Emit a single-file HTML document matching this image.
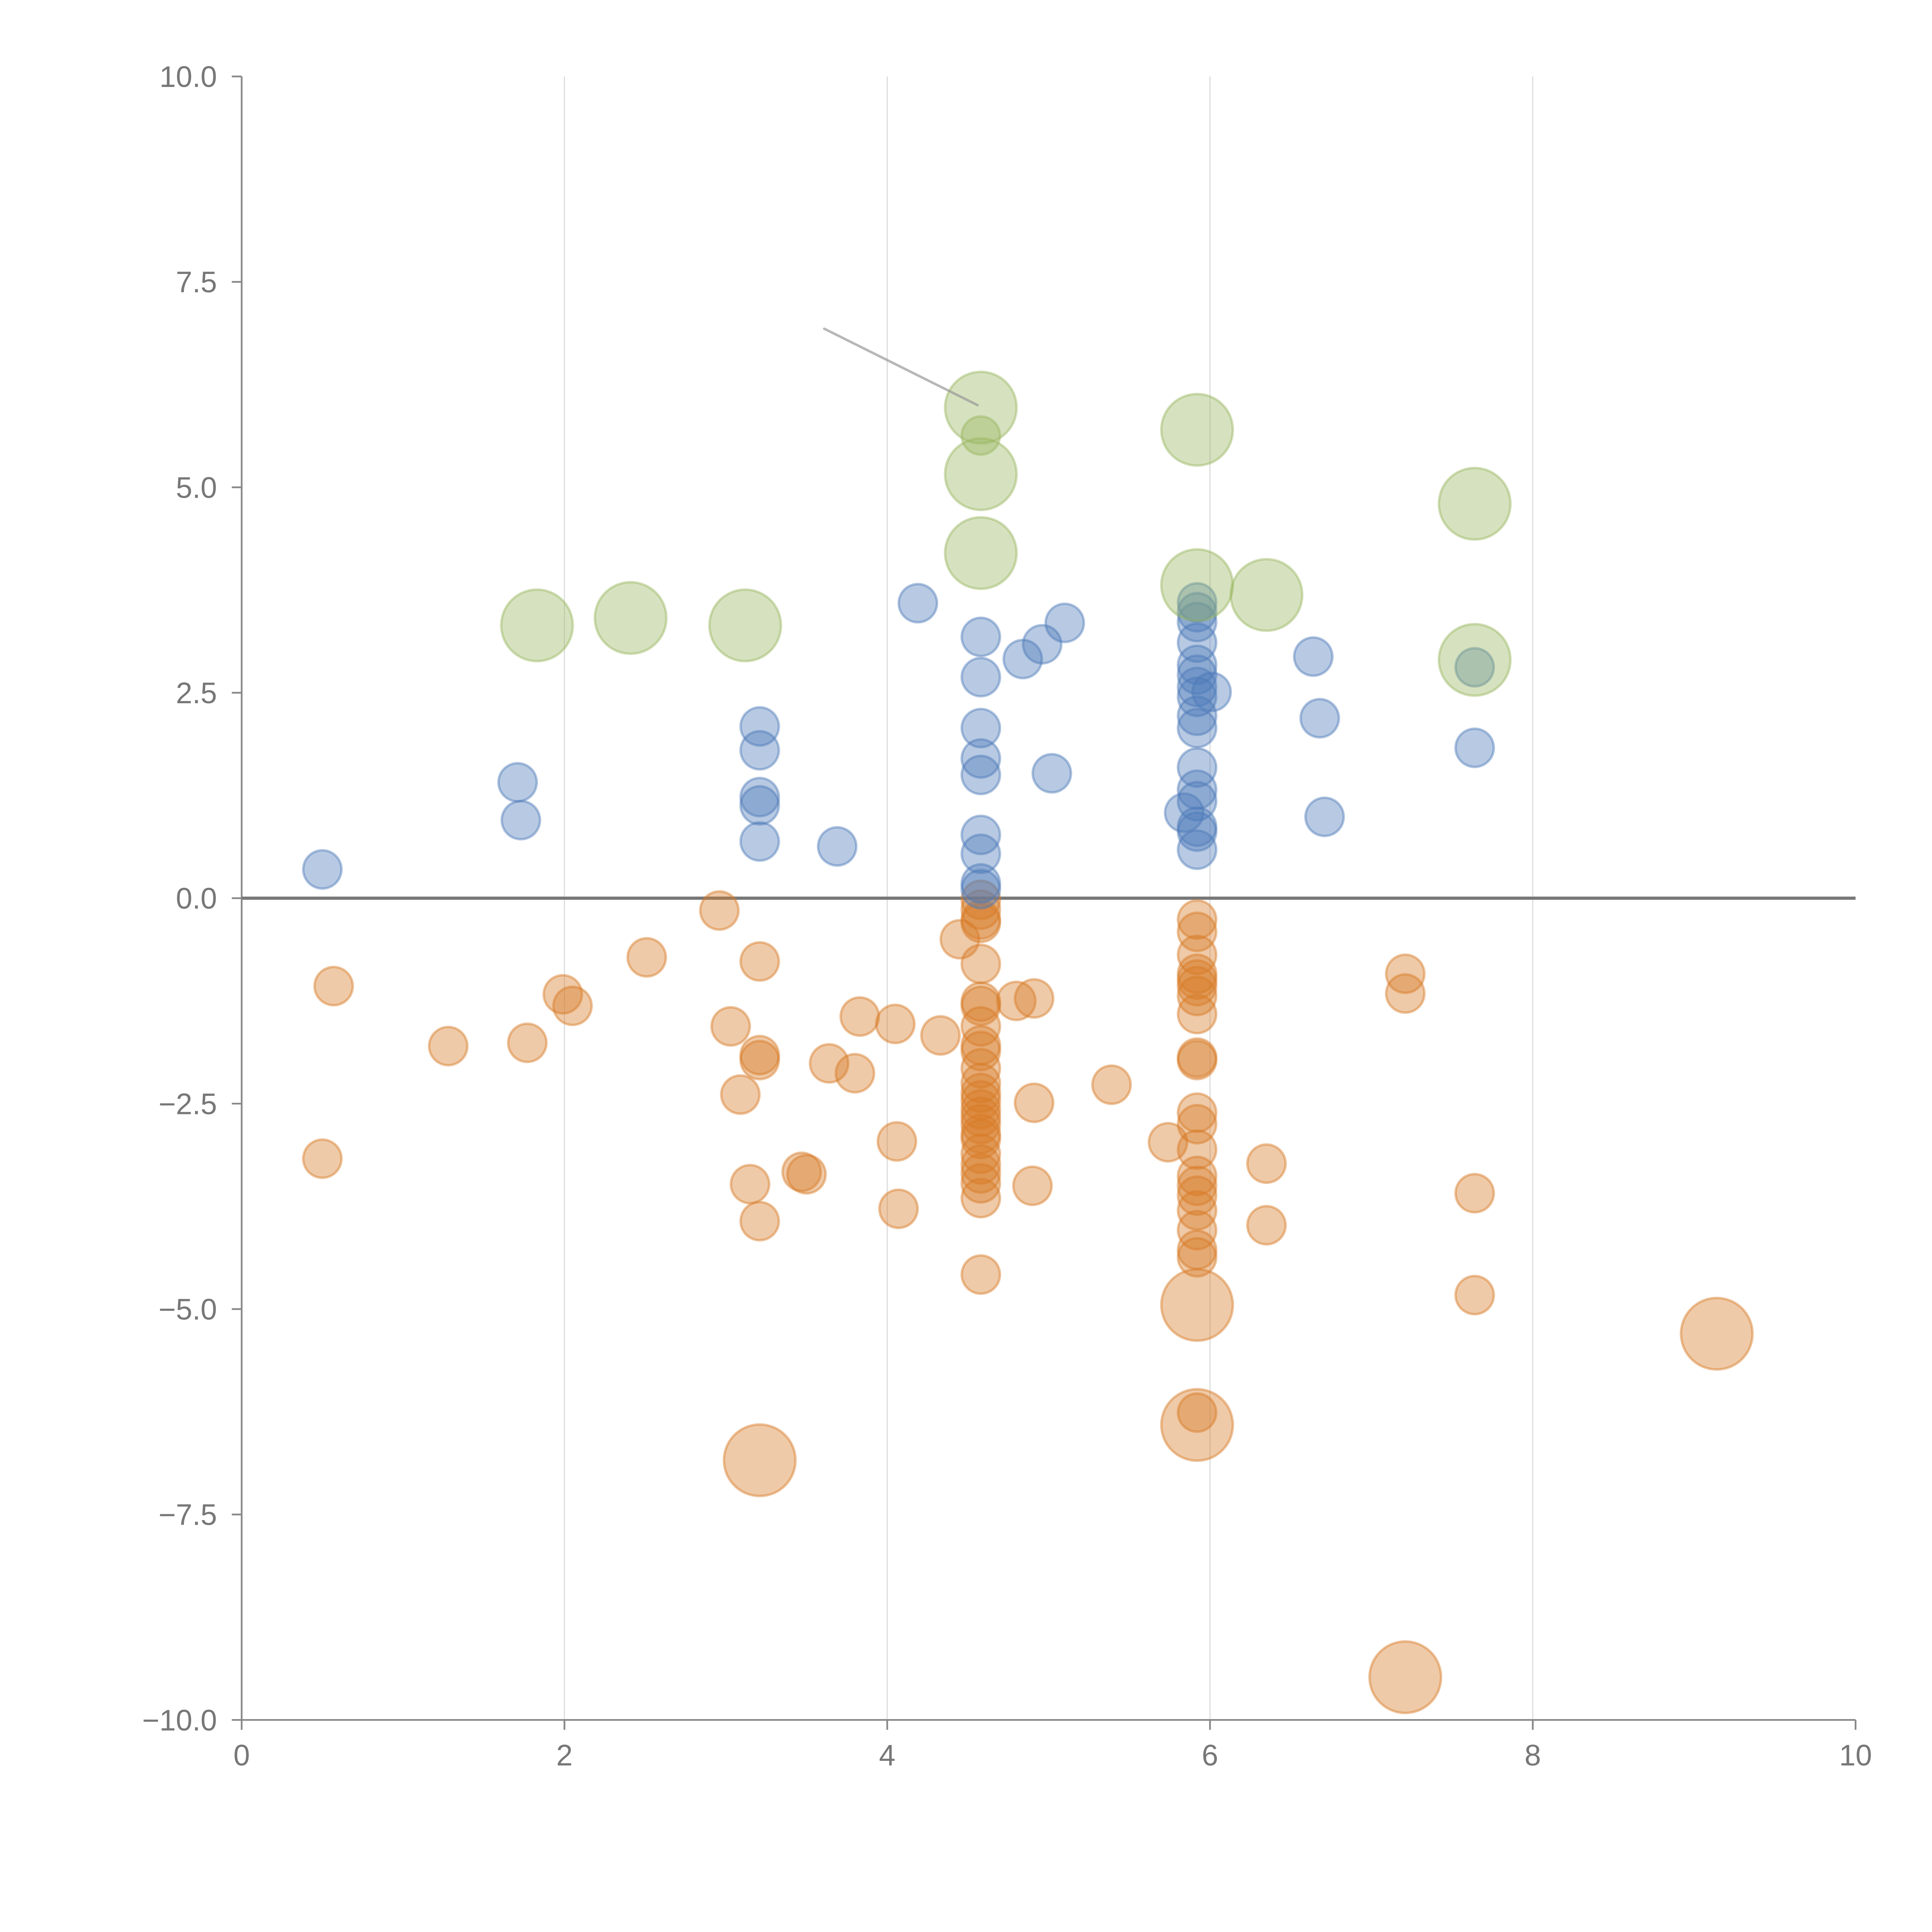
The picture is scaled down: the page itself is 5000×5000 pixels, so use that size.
<!DOCTYPE html>
<html><head><meta charset="utf-8">
<style>html,body{margin:0;padding:0;background:#fff}svg{display:block}</style>
</head><body>
<svg id="chart" width="5000" height="5000" viewBox="0 0 1567 1567" xmlns="http://www.w3.org/2000/svg" font-family="'Liberation Sans', sans-serif">
<g id="grid"></g>
<g id="axes"></g>
<g id="marks"></g>
</svg>
<script>
const xTicks = [0, 2, 4, 6, 8, 10];
const yTicks = [-10, -7.5, -5, -2.5, 0, 2.5, 5, 7.5, 10];
const yTickLabels = ["\u221210.0","\u22127.5","\u22125.0","\u22122.5","0.0","2.5","5.0","7.5","10.0"];

const greenX = [1.83,2.41,3.12,4.58,4.58,4.58,4.58,5.92,5.92,6.35,7.64,7.64];
const greenY = [3.32,3.41,3.32,5.97,5.63,5.16,4.20,5.70,3.81,3.69,4.80,2.90];
const greenBig = [1,1,1,1,0,1,1,1,1,1,1,1];

const blueX = [0.50,1.71,1.73,3.21,3.21,3.21,3.21,3.21,3.69,4.19,4.58,4.58,4.58,4.58,4.58,4.58,4.58,4.58,4.58,4.84,4.96,5.10,5.02,
  5.92,5.92,5.92,5.92,5.92,5.92,5.92,5.92,5.92,5.92,5.92,5.92,5.92,5.92,5.92,5.92,5.84,6.01,6.64,6.68,6.71,7.64,7.64];
const blueY = [0.35,1.41,0.95,2.09,1.80,1.23,1.13,0.69,0.63,3.59,3.18,2.69,2.07,1.70,1.50,0.77,0.54,0.18,0.11,2.91,3.09,3.35,1.52,
  3.60,3.48,3.36,3.11,2.84,2.72,2.57,2.45,2.22,2.07,1.59,1.32,1.18,0.87,0.81,0.59,1.04,2.51,2.94,2.19,0.99,2.81,1.83];

const orangeX = [0.50,0.57,1.28,1.77,1.99,2.05,2.51,2.96,3.03,3.09,3.15,3.21,3.21,3.21,3.21,3.47,3.50,3.64,3.80,3.83,4.05,4.06,4.07,4.33,4.45,
  4.58,4.58,4.58,4.58,4.58,4.58,4.58,4.58,4.58,4.58,4.58,4.58,4.58,4.58,4.58,4.58,4.58,4.58,4.58,4.58,4.58,4.58,4.58,4.58,4.58,
  4.80,4.91,4.91,4.90,5.39,5.74,
  5.92,5.92,5.92,5.92,5.92,5.92,5.92,5.92,5.92,5.92,5.92,5.92,5.92,5.92,5.92,5.92,5.92,5.92,5.92,5.92,5.92,
  6.35,6.35,7.21,7.21,7.64,7.64,
  3.21,5.92,5.92,7.21,9.14];
const orangeY = [-3.17,-1.07,-1.80,-1.76,-1.17,-1.31,-0.72,-0.15,-1.56,-2.39,-3.48,-0.77,-1.91,-1.97,-3.93,-3.33,-3.36,-2.01,-2.13,-1.44,-1.53,-2.96,-3.78,-1.67,-0.50,
  -0.02,-0.14,-0.26,-0.30,-0.80,-1.26,-1.31,-1.56,-1.79,-1.86,-2.07,-2.25,-2.37,-2.46,-2.57,-2.66,-2.75,-2.87,-2.93,-3.11,-3.24,-3.35,-3.47,-3.65,-4.58,
  -1.25,-1.22,-2.49,-3.50,-2.27,-2.97,
  -0.26,-0.41,-0.69,-0.92,-0.99,-1.07,-1.19,-1.41,-1.94,-1.97,-2.61,-2.75,-3.06,-3.38,-3.50,-3.62,-3.80,-4.04,-4.28,-4.37,-6.26,
  -3.23,-3.98,-0.92,-1.16,-3.59,-4.83,
  -6.84,-4.95,-6.41,-9.48,-5.30];
const orangeBig = orangeX.map((_, i) => i >= orangeX.length - 5 ? 1 : 0);

const annoFrom = [3.61, 6.93];
const annoTo = [4.56, 6.00];

const X0 = 196, X1 = 1505, Y0 = 1395, Y1 = 62;
function sx(v){ return X0 + (v - 0) / 10 * (X1 - X0); }
function sy(v){ return Y0 - (v + 10) / 20 * (Y0 - Y1); }
const NS = "http://www.w3.org/2000/svg";
function mk(tag, attrs, parent){
  const e = document.createElementNS(NS, tag);
  for (const k in attrs) e.setAttribute(k, attrs[k]);
  parent.appendChild(e); return e;
}
const grid = document.getElementById('grid');
const axes = document.getElementById('axes');
const marks = document.getElementById('marks');

xTicks.forEach(t => {
  if (t > 0 && t < 10) {
    const g = mk('line', {x1: sx(t), x2: sx(t), y1: Y1, y2: Y0, stroke: '#d8d8d8', 'stroke-width': 0.8}, grid);
    
    
  }
  const tk = mk('line', {x1: sx(t), x2: sx(t), y1: Y0, y2: Y0 + 8, stroke: '#888', 'stroke-width': 1.4}, axes);
  
  
  const lb = mk('text', {x: sx(t), y: Y0 + 37, 'text-anchor': 'middle', 'font-size': 24, fill: '#777'}, axes);
  lb.textContent = String(t);
  
  
});
yTicks.forEach((t, i) => {
  const tk = mk('line', {x1: X0 - 8, x2: X0, y1: sy(t), y2: sy(t), stroke: '#888', 'stroke-width': 1.4}, axes);
  
  
  const lb = mk('text', {x: X0 - 20, y: sy(t) + 8.5, 'text-anchor': 'end', 'font-size': 24, fill: '#777'}, axes);
  lb.textContent = yTickLabels[i];
  
  
});
const ya = mk('line', {x1: X0, x2: X0, y1: Y1, y2: Y0, stroke: '#888', 'stroke-width': 1.4}, axes);


const xa = mk('line', {x1: X0, x2: X1, y1: Y0, y2: Y0, stroke: '#888', 'stroke-width': 1.4}, axes);


const zl = mk('line', {x1: X0, x2: X1, y1: sy(0), y2: sy(0), stroke: '#777', 'stroke-width': 2.6}, axes);



function drawSeries(xs, ys, bigs, color, name){
  xs.forEach((x, i) => {
    const r = bigs[i] ? 29 : 15.5;
    const c = mk('circle', {cx: sx(x), cy: sy(ys[i]), r: r, fill: color, 'fill-opacity': 0.4, stroke: color, 'stroke-opacity': 0.45, 'stroke-width': 2}, marks);
    
    
  });
}
drawSeries(orangeX, orangeY, orangeBig, '#d77a25', 'orange-point');
drawSeries(blueX, blueY, blueX.map(() => 0), '#4d7ab9', 'blue-point');
drawSeries(greenX, greenY, greenBig, '#98b65f', 'green-point');

const an = mk('line', {x1: sx(annoFrom[0]), y1: sy(annoFrom[1]), x2: sx(annoTo[0]), y2: sy(annoTo[1]), stroke: '#999', 'stroke-opacity': 0.7, 'stroke-width': 2, 'stroke-linecap': 'round'}, marks);


</script>
</body></html>
